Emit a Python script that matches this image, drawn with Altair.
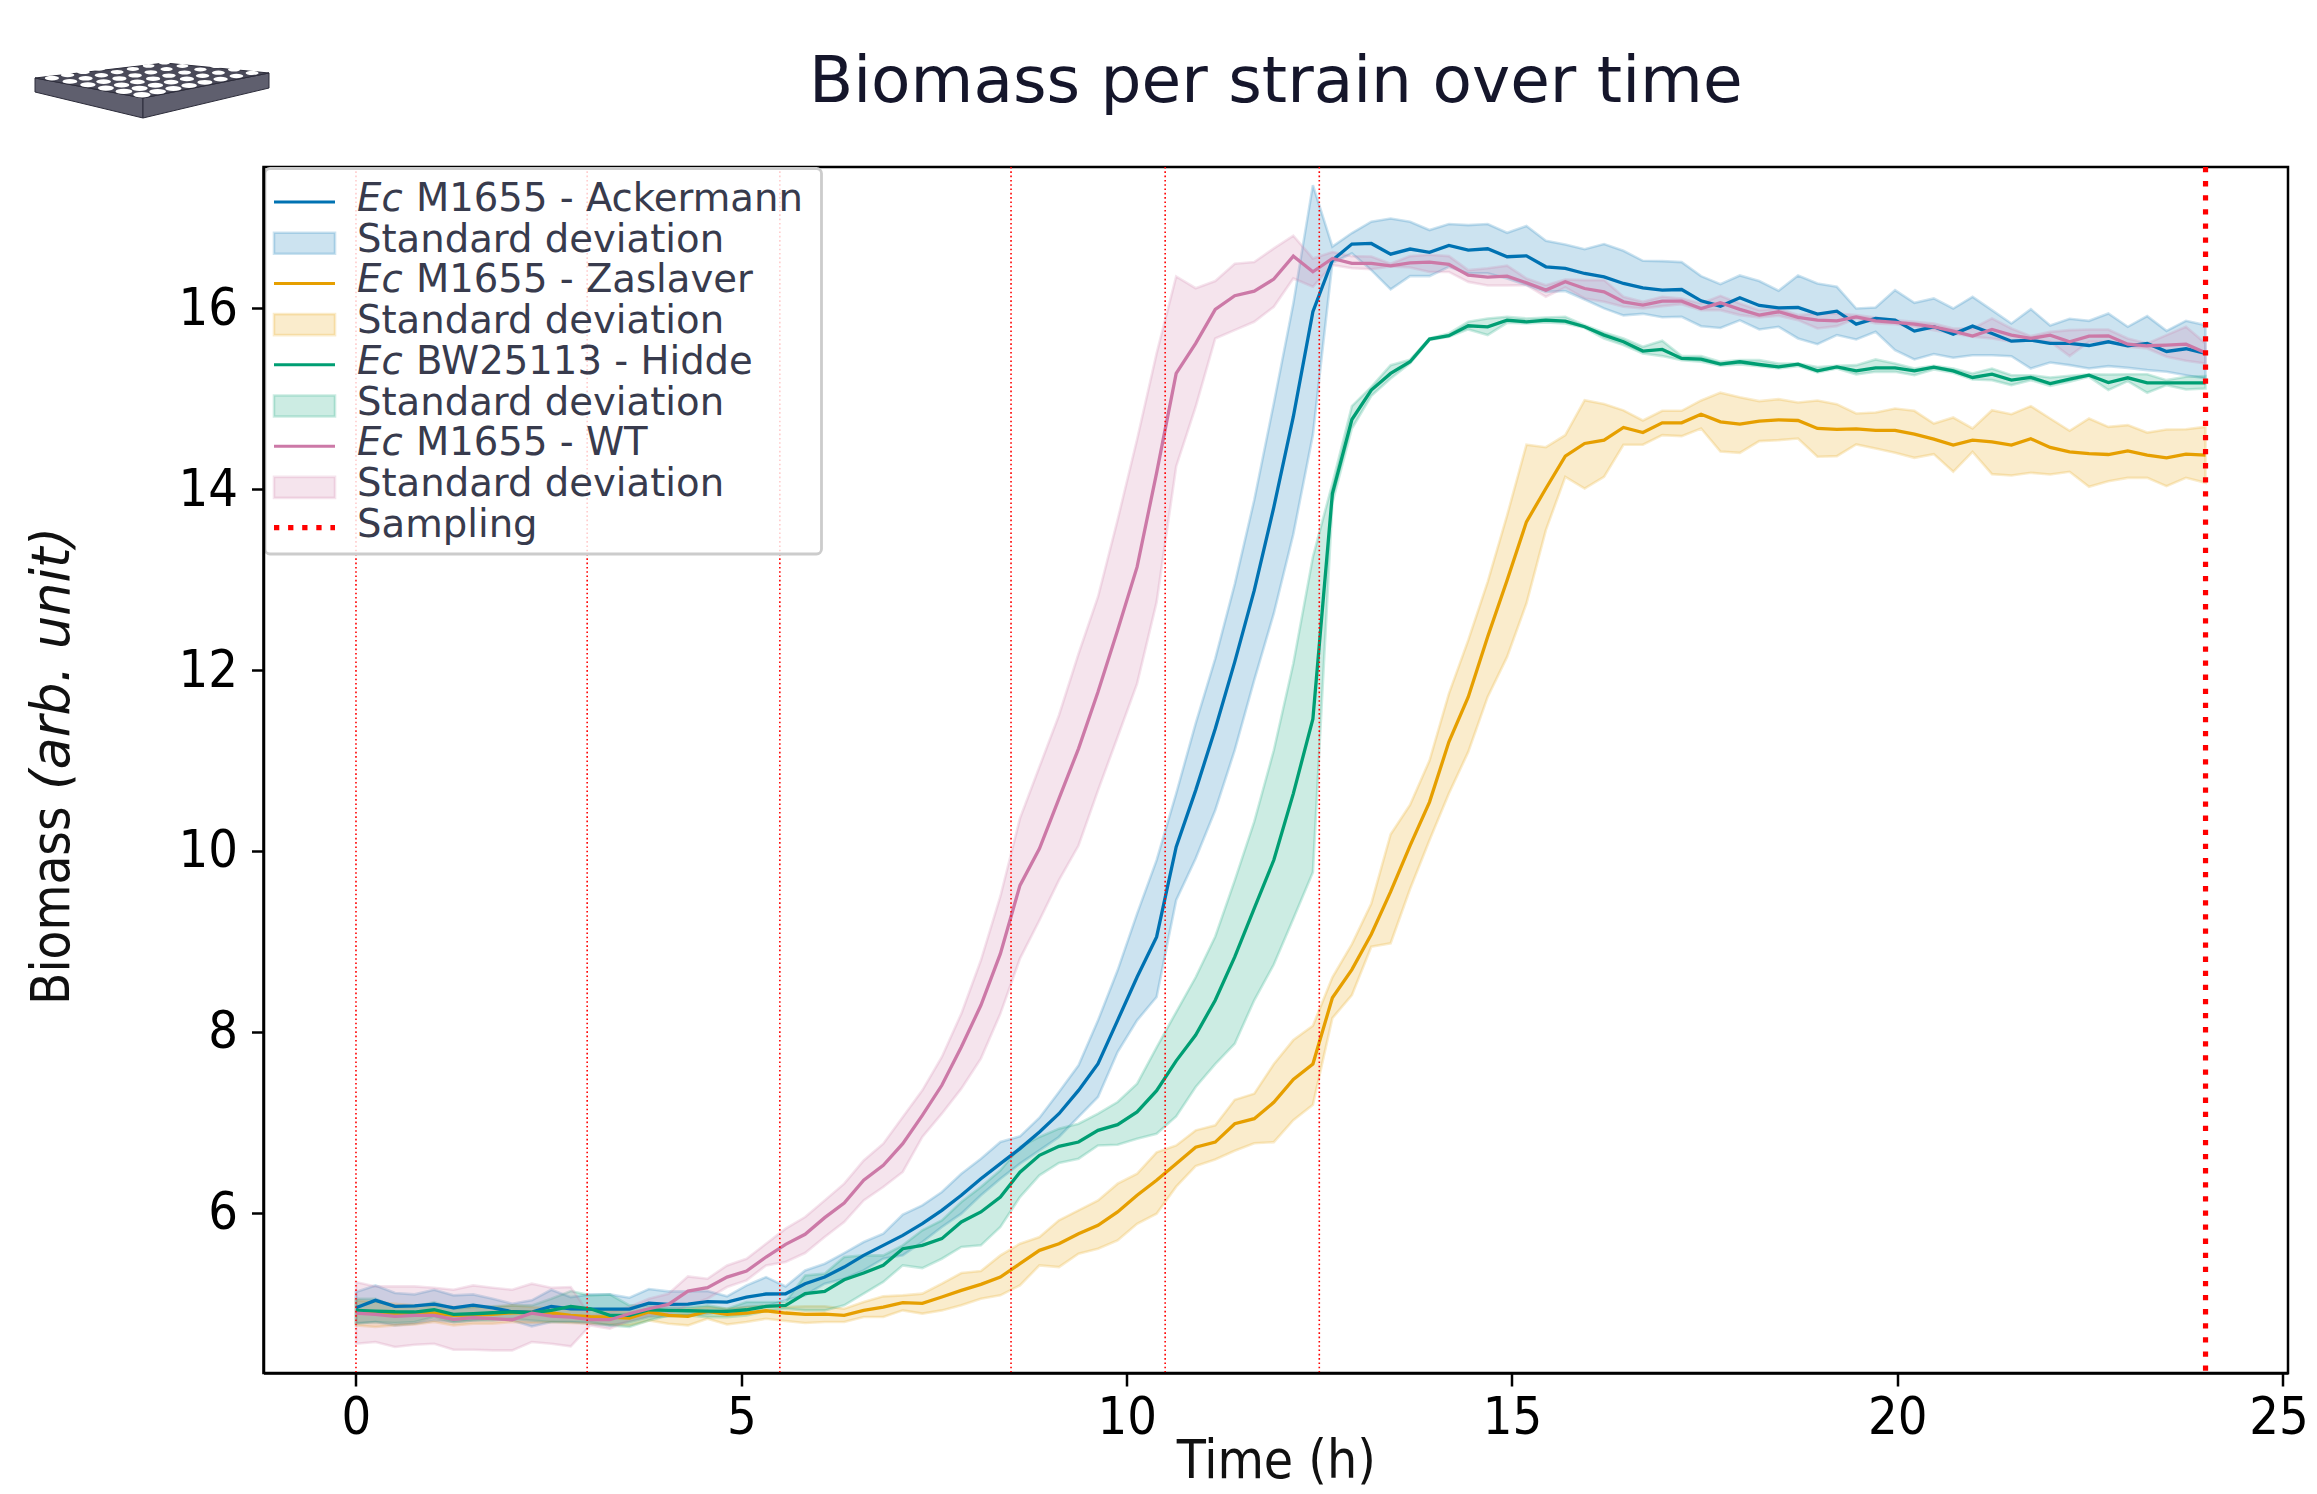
import base64
import altair as alt
import pandas as pd

TIME = [0,.253,.507,.760,1.014,1.267,1.520,1.774,2.027,2.281,2.534,2.787,3.041,3.294,3.548,3.801,4.054,4.308,4.561,4.815,
        5.068,5.321,5.575,5.828,6.082,6.335,6.588,6.842,7.095,7.349,7.602,7.855,8.109,8.362,8.616,8.869,9.122,9.376,9.629,9.883,
        10.136,10.389,10.643,10.896,11.150,11.403,11.656,11.910,12.163,12.417,12.670,12.923,13.175,13.426,13.678,13.930,14.182,14.433,14.685,14.937,
        15.188,15.440,15.692,15.943,16.195,16.447,16.699,16.950,17.202,17.454,17.705,17.957,18.209,18.460,18.712,18.964,19.216,19.467,19.719,19.971,
        20.222,20.474,20.726,20.977,21.229,21.481,21.733,21.984,22.236,22.488,22.739,22.991,23.243,23.494,23.746,24.0]

BLUE_MEAN = [4.951,5.033,4.966,4.973,4.992,4.951,4.981,4.951,4.907,4.903,4.966,4.940,4.937,4.937,4.937,5.003,4.988,4.992,5.018,5.014,5.069,5.103,5.106,
             5.217,5.291,5.401,5.530,5.641,5.751,5.880,6.028,6.194,6.378,6.544,6.710,6.894,7.096,7.354,7.649,8.128,8.607,9.050,
             10.045,10.67,11.35,12.09,12.88,13.80,14.80,15.96,16.53,
             16.708,16.715,16.597,16.653,16.616,16.693,16.642,16.656,16.568,
             16.578,16.457,16.439,16.383,16.346,16.273,16.225,16.200,16.206,16.081,16.022,16.114,16.030,16.004,16.007,15.934,15.967,15.823,15.886,15.867,15.746,15.794,15.713,15.801,15.720,15.635,15.646,15.610,15.610,15.587,15.628,15.584,15.610,15.521,15.551,15.499]
BLUE_UPPER = [5.125,5.198,5.114,5.099,5.150,5.088,5.099,5.051,4.996,5.033,5.150,5.069,5.099,5.099,5.062,5.158,5.132,5.132,5.136,5.077,5.198,5.290,5.187,
              5.364,5.438,5.556,5.678,5.770,5.980,6.083,6.230,6.433,6.599,6.783,6.846,7.052,7.336,7.631,8.128,8.681,9.307,
              9.898,10.635,11.41,12.127,12.95,13.88,14.95,16.05,17.36,16.68,
              16.83,16.955,16.99,16.955,16.863,16.93,16.918,16.93,16.833,
              16.907,16.744,16.704,16.652,16.708,16.634,16.523,16.520,16.509,16.354,16.265,16.361,16.299,16.192,16.361,16.273,16.236,15.996,16.007,16.199,16.059,16.107,15.996,16.125,15.978,15.830,15.989,15.808,15.882,15.860,15.941,15.794,15.912,15.749,15.860,15.812]
BLUE_LOWER = [4.782,4.793,4.756,4.775,4.811,4.793,4.811,4.830,4.811,4.745,4.793,4.793,4.775,4.756,4.793,4.848,4.856,4.867,4.885,4.922,4.959,4.966,5.033,
              5.090,5.217,5.272,5.364,5.493,5.530,5.678,5.844,5.991,6.194,6.378,6.544,6.691,6.839,7.060,7.281,7.778,8.128,8.386,
              9.456,9.916,10.45,11.114,11.888,12.625,13.50,14.60,16.50,
              16.605,16.42,16.207,16.354,16.354,16.457,16.384,16.384,16.328,
              16.255,16.18,16.19,16.096,15.997,15.92,15.937,15.90,15.905,15.80,15.78,15.865,15.764,15.794,15.665,15.602,15.702,15.654,15.738,15.536,15.433,15.492,15.451,15.480,15.480,15.469,15.333,15.399,15.370,15.333,15.359,15.340,15.315,15.296,15.259,15.223]

ORANGE_MEAN = [4.904,4.893,4.881,4.885,4.893,4.867,4.874,4.878,4.896,4.900,4.893,4.867,4.852,4.848,4.837,4.904,4.867,4.856,4.911,4.878,4.893,4.918,4.893,4.878,4.881,4.867,
               4.922,4.959,5.007,5.000,5.070,5.143,5.210,5.291,5.438,5.586,5.659,5.770,5.862,6.010,6.194,6.360,6.544,
               6.726,6.782,6.985,7.041,7.222,7.476,7.645,8.378,8.689,
               9.08,9.55,10.06,10.54,11.206,11.703,12.367,12.993,
               13.638,14.006,14.364,14.504,14.541,14.681,14.625,14.732,14.732,14.828,14.743,14.718,
               14.751,14.766,14.758,14.67,14.659,14.666,14.648,14.648,14.607,14.552,14.486,14.541,14.522,14.486,14.556,14.46,14.412,14.393,14.382,14.423,14.375,14.345,14.386,14.375]
ORANGE_UPPER = [5.033,5.014,4.996,4.977,4.977,4.959,4.959,4.959,4.977,4.959,4.940,4.940,4.940,4.922,4.904,4.940,4.922,4.940,4.959,4.940,4.959,4.973,4.959,4.967,4.967,4.941,
                5.014,5.077,5.088,5.107,5.217,5.335,5.357,5.530,5.659,5.733,5.917,6.028,6.138,6.323,6.433,6.669,6.745,
                6.912,6.968,7.250,7.318,7.645,7.910,8.068,8.604,8.970,9.420,10.185,10.51,11.0,11.74,12.33,12.975,13.71,
                14.49,14.463,14.596,14.983,14.94,14.87,14.758,14.865,14.865,14.98,15.066,15.016,
                14.972,14.994,14.957,14.979,14.939,14.836,14.847,14.891,14.865,14.725,14.791,14.67,14.872,14.828,14.917,14.78,14.644,14.78,14.688,14.707,14.625,14.659,14.662,14.688]
ORANGE_LOWER = [4.756,4.738,4.756,4.767,4.793,4.756,4.775,4.775,4.793,4.782,4.793,4.782,4.775,4.767,4.756,4.811,4.775,4.756,4.830,4.767,4.793,4.830,4.804,4.782,4.793,4.793,
                4.849,4.849,4.922,4.886,4.922,4.978,5.051,5.088,5.199,5.420,5.401,5.549,5.604,5.696,5.880,5.990,6.290,
                6.517,6.590,6.686,6.770,6.782,7.024,7.194,8.152,8.406,8.942,8.98,
                9.58,10.119,10.635,11.095,11.703,12.145,12.735,13.546,
                14.135,14.006,14.135,14.49,14.49,14.596,14.585,14.67,14.415,14.401,
                14.53,14.541,14.559,14.357,14.364,14.493,14.449,14.401,14.345,14.386,14.191,14.412,14.165,14.15,14.18,14.161,14.191,14.025,14.087,14.124,14.124,14.032,14.124,14.069]

GREEN_MEAN = [4.922,4.915,4.907,4.904,4.929,4.878,4.885,4.896,4.904,4.896,4.922,4.966,4.940,4.867,4.867,4.929,4.922,4.918,4.915,4.911,4.929,4.966,4.977,
              5.107,5.132,5.261,5.335,5.420,5.604,5.641,5.715,5.899,6.010,6.175,6.450,6.636,6.735,6.783,6.912,6.975,7.115,7.350,
              7.680,7.966,8.350,8.829,9.365,9.900,10.634,11.46,13.951,14.769,
              15.094,15.278,15.407,15.658,15.695,15.805,15.794,15.868,15.849,15.868,15.857,15.794,15.702,15.628,15.525,15.544,15.444,15.437,15.381,15.407,
              15.377,15.35,15.381,15.307,15.35,15.307,15.34,15.34,15.307,15.348,15.307,15.234,15.27,15.204,15.234,15.167,15.215,15.259,15.178,15.23,15.175,15.175,15.175,15.175]
GREEN_UPPER = [5.051,5.051,4.959,4.959,5.014,4.940,4.959,4.966,4.977,4.977,5.051,5.136,5.088,5.099,4.977,4.977,4.959,4.959,4.977,4.940,5.014,5.014,5.014,
               5.309,5.328,5.512,5.530,5.530,5.641,5.807,5.917,6.120,6.286,6.470,6.728,6.839,6.931,6.986,7.096,7.225,7.428,
               7.83,8.22,8.604,9.055,9.675,10.324,11.113,12.072,13.25,14.062,14.917,
               15.13,15.37,15.43,15.665,15.72,15.85,15.886,15.905,15.886,15.897,15.905,15.812,15.731,15.665,15.573,15.639,15.47,15.47,15.407,15.425,
               15.425,15.388,15.388,15.35,15.362,15.37,15.433,15.388,15.333,15.362,15.333,15.278,15.333,15.259,15.259,15.234,15.252,15.27,15.267,15.27,15.27,15.204,15.241,15.248]
GREEN_LOWER = [4.775,4.793,4.782,4.793,4.848,4.793,4.811,4.811,4.830,4.811,4.793,4.793,4.793,4.756,4.738,4.811,4.867,4.867,4.848,4.848,4.867,4.915,4.940,
               4.922,4.922,4.978,5.107,5.236,5.420,5.390,5.493,5.623,5.641,5.844,6.175,6.415,6.551,6.599,6.745,6.752,6.818,6.875,
               7.065,7.391,7.645,7.870,8.350,8.745,9.252,9.765,13.85,14.67,
               15.03,15.223,15.389,15.647,15.684,15.765,15.702,15.838,15.831,15.842,15.831,15.783,15.665,15.591,15.499,15.47,15.425,15.407,15.363,15.378,
               15.359,15.333,15.359,15.289,15.333,15.267,15.296,15.296,15.259,15.322,15.285,15.211,15.204,15.149,15.204,15.141,15.186,15.241,15.094,15.193,15.064,15.149,15.101,15.112]

PINK_MEAN = [4.892,4.878,4.856,4.867,4.867,4.822,4.841,4.830,4.819,4.892,4.859,4.848,4.819,4.819,4.885,4.940,4.988,5.136,5.173,5.290,5.357,5.512,
             5.652,5.763,5.947,6.109,6.360,6.525,6.765,7.078,7.410,7.834,8.294,8.865,
             9.62,10.027,10.579,11.132,11.759,12.440,13.140,
             14.18,15.278,15.610,15.986,16.137,16.188,16.321,16.575,16.402,16.549,16.494,
             16.494,16.468,16.501,16.509,16.483,16.365,16.343,16.354,
             16.28,16.199,16.291,16.217,16.181,16.07,16.033,16.077,16.077,15.996,16.059,15.987,15.923,15.96,15.897,15.867,15.86,15.904,15.86,15.842,15.823,15.794,15.746,15.691,15.764,15.702,15.665,15.702,15.628,15.691,15.694,15.602,15.584,15.591,15.602,15.506]
PINK_UPPER = [5.235,5.187,5.187,5.187,5.172,5.150,5.198,5.172,5.150,5.217,5.172,5.18,4.866,4.904,4.959,5.051,5.106,5.298,5.272,5.419,5.493,5.659,
              5.825,5.954,6.138,6.323,6.580,6.765,7.060,7.354,7.723,8.202,8.792,9.50,
              10.36,10.93,11.50,12.18,12.81,13.66,14.55,
              15.50,16.35,16.22,16.30,16.49,16.51,16.66,16.80,16.55,16.62,16.575,
              16.57,16.49,16.575,16.59,16.575,16.42,16.44,16.47,
              16.328,16.254,16.317,16.31,16.31,16.125,16.07,16.125,16.107,16.052,16.136,16.052,15.978,15.996,15.923,15.941,15.941,15.923,15.897,15.867,15.849,15.83,15.775,15.775,15.886,15.775,15.691,15.738,15.757,15.764,15.764,15.665,15.61,15.702,15.794,15.61]
PINK_LOWER = [4.553,4.572,4.517,4.542,4.553,4.487,4.487,4.480,4.480,4.572,4.553,4.524,4.756,4.719,4.811,4.867,4.885,4.977,5.051,5.180,5.254,5.419,
              5.457,5.556,5.733,5.899,6.138,6.286,6.452,6.839,7.096,7.373,7.705,8.202,
              8.81,9.234,9.677,10.06,10.67,11.26,11.85,
              12.75,14.25,14.91,15.665,15.757,15.849,16.015,16.328,16.236,16.476,16.44,
              16.43,16.46,16.45,16.40,16.40,16.29,16.25,16.25,
              16.254,16.125,16.229,16.107,16.07,16.015,15.996,16.022,16.044,15.978,15.978,15.923,15.897,15.915,15.867,15.775,15.801,15.886,15.83,15.823,15.794,15.757,15.72,15.683,15.665,15.628,15.646,15.628,15.47,15.628,15.628,15.573,15.554,15.462,15.418,15.388]

SAMPLES = [0, 3, 5.5, 8.5, 10.5, 12.5]
FINAL_SAMPLE = [24]
X_TICKS = [0, 5, 10, 15, 20, 25]
Y_TICKS = [6, 8, 10, 12, 14, 16]
STRAINS = ["M1655 - Ackermann", "M1655 - Zaslaver", "BW25113 - Hidde", "M1655 - WT"]
COLORS = ["#0072B2", "#E69F00", "#009E73", "#CC79A7"]
SERIES = [(BLUE_MEAN, BLUE_UPPER, BLUE_LOWER), (ORANGE_MEAN, ORANGE_UPPER, ORANGE_LOWER),
          (GREEN_MEAN, GREEN_UPPER, GREEN_LOWER), (PINK_MEAN, PINK_UPPER, PINK_LOWER)]

FONT = "DejaVu Sans"
FONT_NARROW = "DejaVu Sans Condensed"
TEXT_DARK = "#383b4d"


def plate_svg():
    # decorative well-plate pictogram next to the title
    F, L, R = (109.0, 36.0), (1.0, 16.0), (235.0, 11.0)
    parts = ['<svg xmlns="http://www.w3.org/2000/svg" viewBox="0 0 236 57" width="236" height="57">',
             '<polygon points="1,16 109,36 109,56 1,30" fill="#5f5f6e" stroke="#2c2c3a" stroke-width="1"/>',
             '<polygon points="109,36 235,11 235,26 109,56" fill="#5f5f6e" stroke="#2c2c3a" stroke-width="1"/>',
             '<polygon points="1,16 131,1 235,11 109,36" fill="#4a4a59" stroke="#2c2c3a" stroke-width="1"/>']
    for i in range(6):
        for j in range(8):
            a, b = (i + .5) / 6, (j + .5) / 8
            px = F[0] + a * (L[0] - F[0]) + b * (R[0] - F[0])
            py = F[1] + a * (L[1] - F[1]) + b * (R[1] - F[1])
            s = .62 + .38 * max(0.0, (py - 1) / 35)
            parts.append(f'<ellipse cx="{px:.1f}" cy="{py:.1f}" rx="{9.0*s:.1f}" ry="{2.9*s:.1f}" fill="#ffffff"/>')
    parts.append('</svg>')
    return "data:image/svg+xml;base64," + base64.b64encode("".join(parts).encode()).decode()


x_scale = alt.Scale(domain=[-1.2, 25.07], nice=False, zero=False)
y_scale = alt.Scale(domain=[4.23, 17.56], nice=False, zero=False)
x_axis = alt.Axis(values=X_TICKS, format="d", title="Time (h)", grid=False, labelFontSize=52, titleFontSize=53,
                  labelPadding=6, titlePadding=-8, tickSize=13, tickWidth=2.5, domainWidth=2.5, domainColor="black",
                  tickColor="black", labelColor="black", titleColor="#111111", labelFont=FONT_NARROW, titleFont=FONT_NARROW,
                  titleFontWeight="normal", labelFlush=False, labelOverlap=False, zindex=1,
                  labelOffset=alt.ExprRef("datum.value == 25 ? -4 : 0"))
y_axis = alt.Axis(values=Y_TICKS, format="d", title=None, grid=False, labelFontSize=52, labelPadding=14,
                  tickSize=12, tickWidth=2.5, domainWidth=2.5, domainColor="black", tickColor="black",
                  labelColor="black", labelFont=FONT_NARROW, labelOverlap=False, zindex=1)

one = pd.DataFrame({"a": [0]})
layers = []
frames = [pd.DataFrame({"t": TIME, "mean": m, "upper": u, "lower": l}) for m, u, l in SERIES]

for df, color in zip(frames, COLORS):
    layers.append(alt.Chart(df).mark_area(color=color, fillOpacity=.2, stroke=color, strokeOpacity=.2,
                                          strokeWidth=2.6, interpolate="linear").encode(
        x=alt.X("t:Q", scale=x_scale, axis=x_axis),
        y=alt.Y("lower:Q", scale=y_scale, axis=y_axis),
        y2="upper:Q"))
for df, color in zip(frames, COLORS):
    layers.append(alt.Chart(df).mark_line(color=color, strokeWidth=3.3).encode(
        x=alt.X("t:Q", scale=x_scale), y=alt.Y("mean:Q", scale=y_scale)))

layers.append(alt.Chart(pd.DataFrame({"t": SAMPLES})).mark_rule(color="#ff0000", strokeWidth=1.6, strokeDash=[1.6, 2.7]).encode(
    x=alt.X("t:Q", scale=x_scale)))
layers.append(alt.Chart(pd.DataFrame({"t": FINAL_SAMPLE})).mark_rule(color="#ff0000", strokeWidth=5.2, strokeDash=[5.3, 8.8]).encode(
    x=alt.X("t:Q", scale=x_scale)))

# legend frame, built by hand because labels mix italic and upright text
layers.append(alt.Chart(one).mark_rect(fill="white", fillOpacity=.8, stroke="#cccccc", strokeWidth=2.8, cornerRadius=5).encode(
    x=alt.value(1.5), x2=alt.value(558), y=alt.value(1.5), y2=alt.value(387)))

ROW0, ROW = 32.0, 40.7
SW0, SW1 = 10.5, 71.5
TX0, TX1 = 93.5, 152.5
LEG_SIZE = 38.6


def legend_text(label, x, row, style="normal"):
    return alt.Chart(one).mark_text(text=label, align="left", baseline="middle", font=FONT, fontSize=LEG_SIZE,
                                    fontStyle=style, color=TEXT_DARK).encode(
        x=alt.value(x), y=alt.value(ROW0 + row * ROW))


for i, (name, color) in enumerate(zip(STRAINS, COLORS)):
    r = 2 * i
    layers.append(alt.Chart(one).mark_rule(color=color, strokeWidth=3).encode(
        x=alt.value(SW0), x2=alt.value(SW1), y=alt.value(ROW0 + r * ROW + 3)))
    layers.append(legend_text("Ec", TX0, r, "italic"))
    layers.append(legend_text(name, TX1, r))
    layers.append(alt.Chart(one).mark_rect(fill=color, fillOpacity=.2, stroke=color, strokeOpacity=.2, strokeWidth=2.6).encode(
        x=alt.value(SW0), x2=alt.value(SW1),
        y=alt.value(ROW0 + (r + 1) * ROW - 7), y2=alt.value(ROW0 + (r + 1) * ROW + 14)))
    layers.append(legend_text("Standard deviation", TX0, r + 1))
layers.append(alt.Chart(one).mark_rule(color="#ff0000", strokeWidth=5.2, strokeDash=[5.3, 8.8]).encode(
    x=alt.value(SW0), x2=alt.value(SW1), y=alt.value(ROW0 + 8 * ROW + 3)))
layers.append(legend_text("Sampling", TX0, 8))

# rotated y title with its italic part
for label, ypos, style, fam in [("Biomass", 838, "normal", FONT_NARROW), ("(arb. unit)", 623, "italic", FONT)]:
    layers.append(alt.Chart(one).mark_text(text=label, angle=270, align="left", baseline="middle", font=fam,
                                           fontSize=52.5, fontStyle=style, color="#111111").encode(
        x=alt.value(-210.5), y=alt.value(ypos)))

layers.append(alt.Chart(one).mark_image(url=plate_svg(), width=236, height=57).encode(
    x=alt.value(-111.5), y=alt.value(-76.5)))

chart = alt.layer(*layers).properties(
    width=2024.5, height=1206,
    title=alt.TitleParams("Biomass per strain over time", anchor="middle", frame="group", fontSize=64.5, font=FONT,
                          fontWeight="normal", color="#15162b", offset=-104, baseline="alphabetic"),
    padding={"left": 255.5, "top": 159, "right": 21, "bottom": 113},
    autosize=alt.AutoSizeParams(type="none"),
    background="white",
).configure_view(stroke="black", strokeWidth=2.5)

chart.save("out.html", embed_options={"renderer": "svg", "actions": False})
